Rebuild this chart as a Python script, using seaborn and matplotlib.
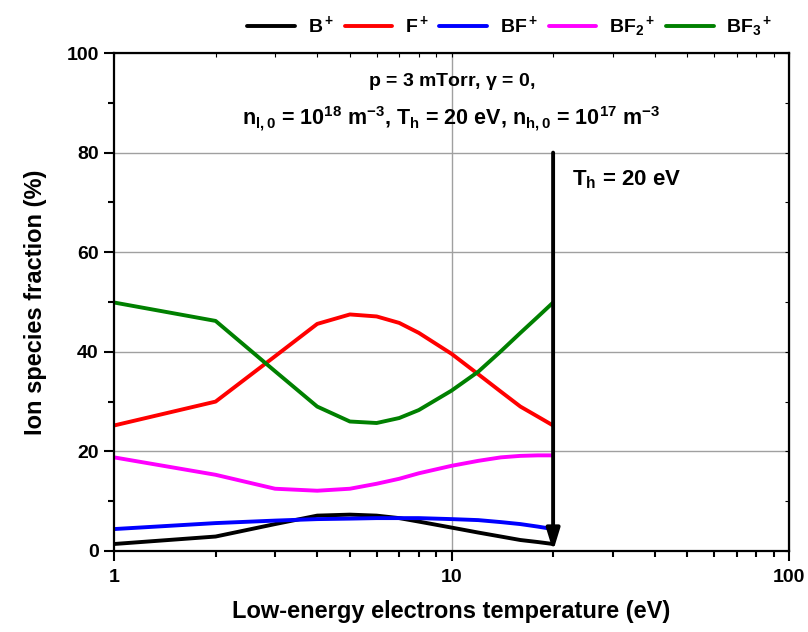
import matplotlib
matplotlib.use("Agg")
import matplotlib.pyplot as plt
from matplotlib.ticker import FixedLocator, NullFormatter, LogLocator
import seaborn as sns
import pandas as pd

x_te = [1, 2, 3, 4, 5, 6, 7, 8, 10, 12, 14, 16, 18, 20]
b_plus = [1.4, 2.9, 5.4, 7.1, 7.3, 7.1, 6.6, 5.9, 4.7, 3.7, 2.9, 2.2, 1.8, 1.4]
f_plus = [25.2, 30.0, 39.1, 45.6, 47.5, 47.1, 45.8, 43.8, 39.6, 35.5, 32.0, 29.0, 27.0, 25.2]
bf_plus = [4.4, 5.6, 6.1, 6.4, 6.5, 6.6, 6.6, 6.6, 6.4, 6.2, 5.8, 5.4, 4.9, 4.4]
bf2_plus = [18.8, 15.3, 12.5, 12.1, 12.5, 13.5, 14.5, 15.6, 17.1, 18.1, 18.8, 19.1, 19.2, 19.2]
bf3_plus = [49.9, 46.2, 36.1, 29.0, 26.0, 25.7, 26.7, 28.3, 32.2, 36.0, 40.1, 43.8, 47.0, 49.9]

series_names = [r"B$^+$", r"F$^+$", r"BF$^+$", r"BF$_2$$^+$", r"BF$_3$$^+$"]
series_vals = [b_plus, f_plus, bf_plus, bf2_plus, bf3_plus]
colors = ["#000000", "#ff0000", "#0000ff", "#ff00ff", "#008000"]

rows = []
for name, vals in zip(series_names, series_vals):
    for xv, yv in zip(x_te, vals):
        rows.append({"Te": xv, "frac": yv, "ion": name})
df = pd.DataFrame(rows)

sns.set_style("ticks")
plt.rcParams["font.family"] = ["Liberation Sans", "DejaVu Sans"]
plt.rcParams["font.weight"] = "bold"
plt.rcParams["text.color"] = "black"
plt.rcParams["axes.labelcolor"] = "black"
plt.rcParams["xtick.color"] = "black"
plt.rcParams["ytick.color"] = "black"
plt.rcParams["axes.edgecolor"] = "black"
plt.rcParams["mathtext.fontset"] = "custom"
plt.rcParams["mathtext.rm"] = "Liberation Sans:bold"
plt.rcParams["mathtext.bf"] = "Liberation Sans:bold"
plt.rcParams["mathtext.it"] = "Liberation Sans:bold"
plt.rcParams["mathtext.default"] = "bf"

fig = plt.figure(figsize=(8.08, 6.32), dpi=100)
ax = fig.add_axes([0.1411, 0.1282, 0.9765 - 0.1411, 0.9161 - 0.1282])

sns.lineplot(data=df, x="Te", y="frac", hue="ion", hue_order=series_names,
             palette=colors, linewidth=2.8, ax=ax, legend=True, sort=False)

ax.set_xscale("log")
ax.set_xlim(1, 100)
ax.set_ylim(0, 100)

# grid
for yv in [20, 40, 60, 80]:
    ax.axhline(yv, color="#a0a0a0", lw=1.0, zorder=0)
ax.axvline(10, color="#a0a0a0", lw=1.0, zorder=0)

ax.set_xticks([1, 10, 100])
ax.set_xticklabels(["1", "10", "100"])
ax.xaxis.set_minor_locator(LogLocator(base=10, subs=range(2, 10)))
ax.xaxis.set_minor_formatter(NullFormatter())
ax.set_yticks([0, 20, 40, 60, 80, 100])
ax.yaxis.set_minor_locator(FixedLocator([10, 30, 50, 70, 90]))

ax.tick_params(axis="both", which="major", direction="out", length=7, width=1.5,
               labelsize=14, pad=4, colors="black")
ax.tick_params(axis="x", which="major", pad=6)
ax.tick_params(axis="both", which="minor", direction="out", length=4, width=1.5,
               colors="black")
for lab in ax.get_xticklabels() + ax.get_yticklabels():
    lab.set_fontweight("bold")

for sp in ax.spines.values():
    sp.set_visible(True)
    sp.set_linewidth(1.6)
    sp.set_color("black")

secx = ax.secondary_xaxis("top")
secx.set_xticks([1, 10, 100])
secx.xaxis.set_minor_locator(LogLocator(base=10, subs=range(2, 10)))
secx.tick_params(which="both", direction="in", length=3, width=0.8, labeltop=False,
                 colors="black")
secx.xaxis.set_major_formatter(NullFormatter())
secx.xaxis.set_minor_formatter(NullFormatter())
secy = ax.secondary_yaxis("right")
secy.set_yticks([0, 20, 40, 60, 80, 100])
secy.yaxis.set_minor_locator(FixedLocator([10, 30, 50, 70, 90]))
secy.tick_params(which="both", direction="in", length=3, width=0.8, labelright=False,
                 colors="black")
secy.yaxis.set_major_formatter(NullFormatter())

ax.set_xlabel("Low-energy electrons temperature (eV)", fontsize=17,
              fontweight="bold", labelpad=10)
ax.set_ylabel("Ion species fraction (%)", fontsize=17, fontweight="bold",
              labelpad=14)

# arrow at T_h
ax.annotate("", xy=(20, 0), xytext=(20, 80),
            arrowprops=dict(arrowstyle="-|>,head_length=1.3,head_width=0.4",
                            lw=2.8, color="black", shrinkA=0, shrinkB=0))
ax.text(0.678, 0.745, r"T$_h$ = 20 eV", transform=ax.transAxes,
        fontsize=16, fontweight="bold", ha="left", va="center")

ax.text(0.5, 0.942, r"p = 3 mTorr, $\gamma$ = 0,", transform=ax.transAxes,
        fontsize=14, fontweight="bold", ha="center", va="center")
ax.text(0.5, 0.868,
        r"n$_{l,0}$ = 10$^{18}$ m$^{-3}$, T$_h$ = 20 eV, n$_{h,0}$ = 10$^{17}$ m$^{-3}$",
        transform=ax.transAxes, fontsize=15.5, fontweight="bold",
        ha="center", va="center")

handles, labels = ax.get_legend_handles_labels()
ax.legend(handles, labels, loc="lower right", bbox_to_anchor=(0.99, 1.008),
          ncol=5, frameon=False, fontsize=14, handlelength=2.45,
          handletextpad=0.65, columnspacing=0.55, borderaxespad=0.1)
for t in ax.get_legend().get_texts():
    t.set_fontweight("bold")

fig.savefig("out.png", dpi=100)
